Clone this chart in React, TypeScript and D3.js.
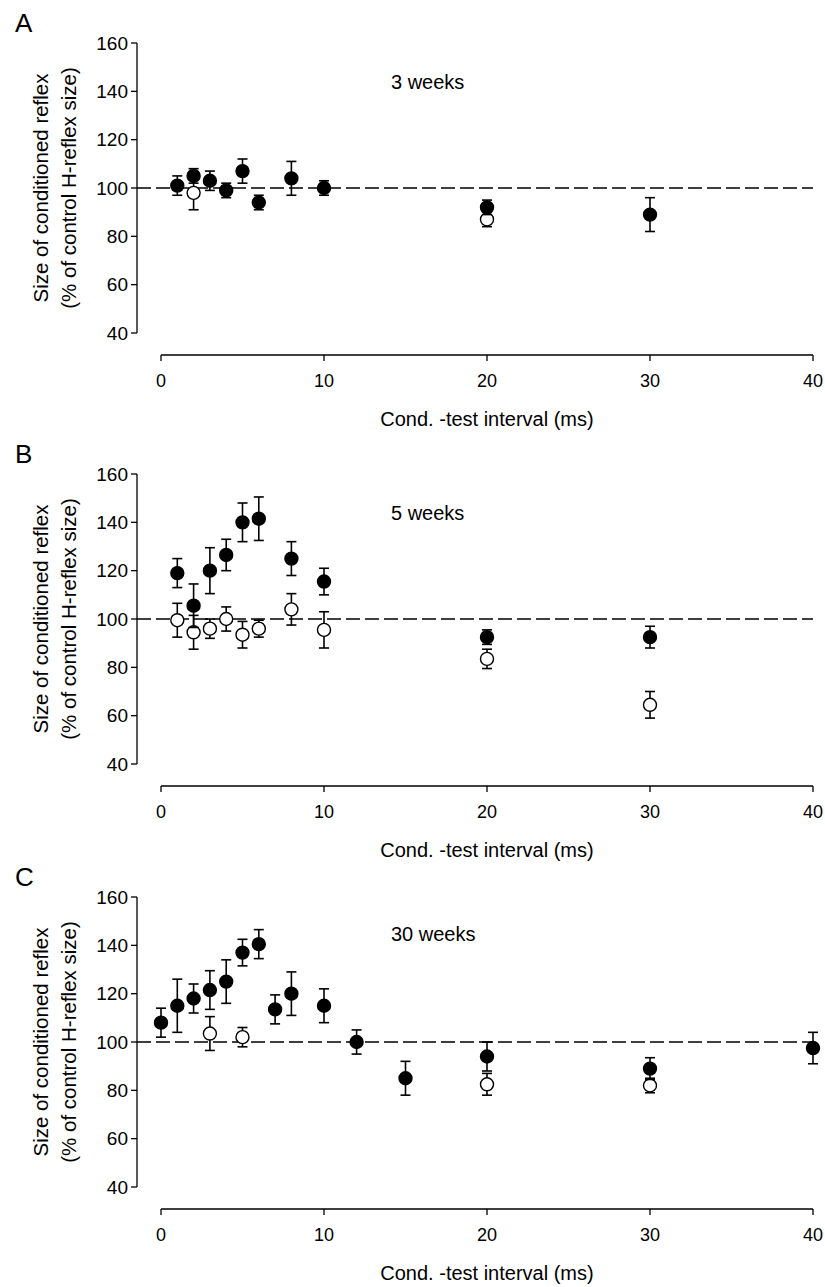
import * as d3 from "d3";

const xTicks = [0, 10, 20, 30, 40];
const yTicks = [40, 60, 80, 100, 120, 140, 160];

// [interval ms, mean %, s.e.]
const aFilled = [
  [1, 101, 4], [2, 105, 3], [3, 103, 4], [4, 99, 3], [5, 107, 5],
  [6, 94, 3], [8, 104, 7], [10, 100, 3], [20, 92, 3], [30, 89, 7],
];
const aOpen = [[2, 98, 7], [20, 87, 3]];

const bFilled = [
  [1, 119, 6], [2, 105.5, 9], [3, 120, 9.5], [4, 126.5, 6.5], [5, 140, 8],
  [6, 141.5, 9], [8, 125, 7], [10, 115.5, 5.5], [20, 92.5, 3], [30, 92.5, 4.5],
];
const bOpen = [
  [1, 99.5, 7], [2, 94.5, 7], [3, 96, 4], [4, 100, 5], [5, 93.5, 5.5],
  [6, 96, 3.5], [8, 104, 6.5], [10, 95.5, 7.5], [20, 83.5, 4], [30, 64.5, 5.5],
];

const cFilled = [
  [0, 108, 6], [1, 115, 11], [2, 118, 6], [3, 121.5, 8], [4, 125, 9],
  [5, 137, 5.5], [6, 140.5, 6], [7, 113.5, 6], [8, 120, 9], [10, 115, 7],
  [12, 100, 5], [15, 85, 7], [20, 94, 6], [30, 89, 4.5], [40, 97.5, 6.5],
];
const cOpen = [[3, 103.5, 7], [5, 102, 4], [20, 82.5, 4.5], [30, 82, 3]];

const panels = [
  { letter: "A", title: "3 weeks", top: 43, filled: aFilled, open: aOpen },
  { letter: "B", title: "5 weeks", top: 474, filled: bFilled, open: bOpen },
  { letter: "C", title: "30 weeks", top: 897, filled: cFilled, open: cOpen },
];

const font = "'Liberation Sans', Arial, sans-serif";

function Panel({ p }: { p: (typeof panels)[number] }) {
  const x = d3.scaleLinear().domain([0, 40]).range([161, 813]);
  const y = d3.scaleLinear().domain([40, 160]).range([p.top + 290, p.top]);
  const axisY = p.top + 312;
  const marks = (data: number[][], fill: string) =>
    data.map(([xv, m, e], i) => (
      <g key={i} stroke="#000" strokeWidth={1.6}>
        <line x1={x(xv)} x2={x(xv)} y1={y(m - e)} y2={y(m + e)} />
        <line x1={x(xv) - 5} x2={x(xv) + 5} y1={y(m - e)} y2={y(m - e)} />
        <line x1={x(xv) - 5} x2={x(xv) + 5} y1={y(m + e)} y2={y(m + e)} />
        <circle cx={x(xv)} cy={y(m)} r={6.5} fill={fill} strokeWidth={1.4} />
      </g>
    ));
  return (
    <g fontFamily={font} fill="#000">
      <text x={15} y={p.top - 11} fontSize={26}>{p.letter}</text>
      <line x1={137} x2={137} y1={y(160)} y2={y(40)} stroke="#000" strokeWidth={1.3} />
      {yTicks.map((t) => (
        <g key={t}>
          <line x1={131} x2={137} y1={y(t)} y2={y(t)} stroke="#000" strokeWidth={1.3} />
          <text x={128} y={y(t)} dy="0.35em" textAnchor="end" fontSize={19}>{t}</text>
        </g>
      ))}
      <g transform={`translate(0,${y(100)}) rotate(-90)`} fontSize={20.5} textAnchor="middle">
        <text x={0} y={48}>Size of conditioned reflex</text>
        <text x={0} y={76}>(% of control H-reflex size)</text>
      </g>
      <line x1={x(0)} x2={x(40)} y1={axisY} y2={axisY} stroke="#000" strokeWidth={1.3} />
      {xTicks.map((t) => (
        <g key={t}>
          <line x1={x(t)} x2={x(t)} y1={axisY} y2={axisY + 6} stroke="#000" strokeWidth={1.3} />
          <text x={x(t)} y={axisY + 32} textAnchor="middle" fontSize={18}>{t}</text>
        </g>
      ))}
      <text x={x(20)} y={axisY + 71} textAnchor="middle" fontSize={20}>Cond. -test interval (ms)</text>
      <text x={391} y={p.top + (p.letter === "C" ? 44 : 46)} fontSize={20}>{p.title}</text>
      <line x1={137} x2={813} y1={y(100)} y2={y(100)} stroke="#000" strokeWidth={1.3} strokeDasharray="14,5" />
      {marks(p.open, "#fff")}
      {marks(p.filled, "#000")}
    </g>
  );
}

export default function App() {
  return (
    <svg width={825} height={1287} style={{ position: "absolute", top: 0, left: 0, background: "#fff" }}>
      {panels.map((p) => (
        <Panel key={p.letter} p={p} />
      ))}
    </svg>
  );
}
